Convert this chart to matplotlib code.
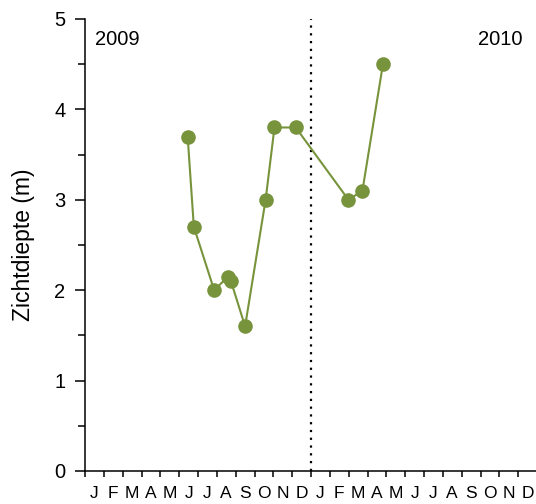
import matplotlib
matplotlib.use("Agg")
import matplotlib.pyplot as plt
from matplotlib.ticker import MultipleLocator

plt.rcParams['font.family'] = ['Liberation Sans', 'DejaVu Sans']

# month offset since 1 Jan 2009 (fractional months)
month_pos = [5.45, 5.78, 6.86, 7.59, 7.75, 8.50, 9.59, 10.06, 11.19, 13.99, 14.73, 15.82]
depth = [3.7, 2.7, 2.0, 2.15, 2.1, 1.6, 3.0, 3.8, 3.8, 3.0, 3.1, 4.5]
month_labels = ["J", "F", "M", "A", "M", "J", "J", "A", "S", "O", "N", "D"] * 2
year_labels = ["2009", "2010"]

W, H = 536, 504
fig = plt.figure(figsize=(W / 100, H / 100), dpi=100)
ax = fig.add_axes([85 / W, (H - 471) / H, 452 / W, 452 / H])

color = '#77933C'
ax.plot(month_pos, depth, color=color, lw=1.5, marker='o', markersize=10.5,
        markeredgewidth=0, zorder=3)
ax.axvline(12, color='black', lw=1.6, linestyle=(0, (1, 2.5)), zorder=2)

ax.set_xlim(0, 24)
ax.set_ylim(0, 5)
ax.spines['top'].set_visible(False)
ax.spines['right'].set_visible(False)
for s in ['left', 'bottom']:
    ax.spines[s].set_linewidth(1.1)

ax.yaxis.set_major_locator(MultipleLocator(1))
ax.yaxis.set_minor_locator(MultipleLocator(0.5))
ax.tick_params(axis='y', which='major', length=7, width=1.1, labelsize=14.5, pad=7)
ax.tick_params(axis='y', which='minor', length=5, width=1.1)

ax.set_xticks(range(0, 25))
ax.set_xticklabels([])
ax.set_xticks([i + 0.5 for i in range(24)], minor=True)
ax.set_xticklabels(month_labels, minor=True)
ax.tick_params(axis='x', which='major', length=4, width=1.1)
ax.tick_params(axis='x', which='minor', length=0, labelsize=12.5, pad=11)

ax.set_ylabel("Zichtdiepte (m)", fontsize=16.5, labelpad=14)

ax.text(0.55, 4.77, year_labels[0], fontsize=14.5, ha='left', va='center')
ax.text(23.25, 4.77, year_labels[1], fontsize=14.5, ha='right', va='center')

fig.savefig("out.png", dpi=100)
